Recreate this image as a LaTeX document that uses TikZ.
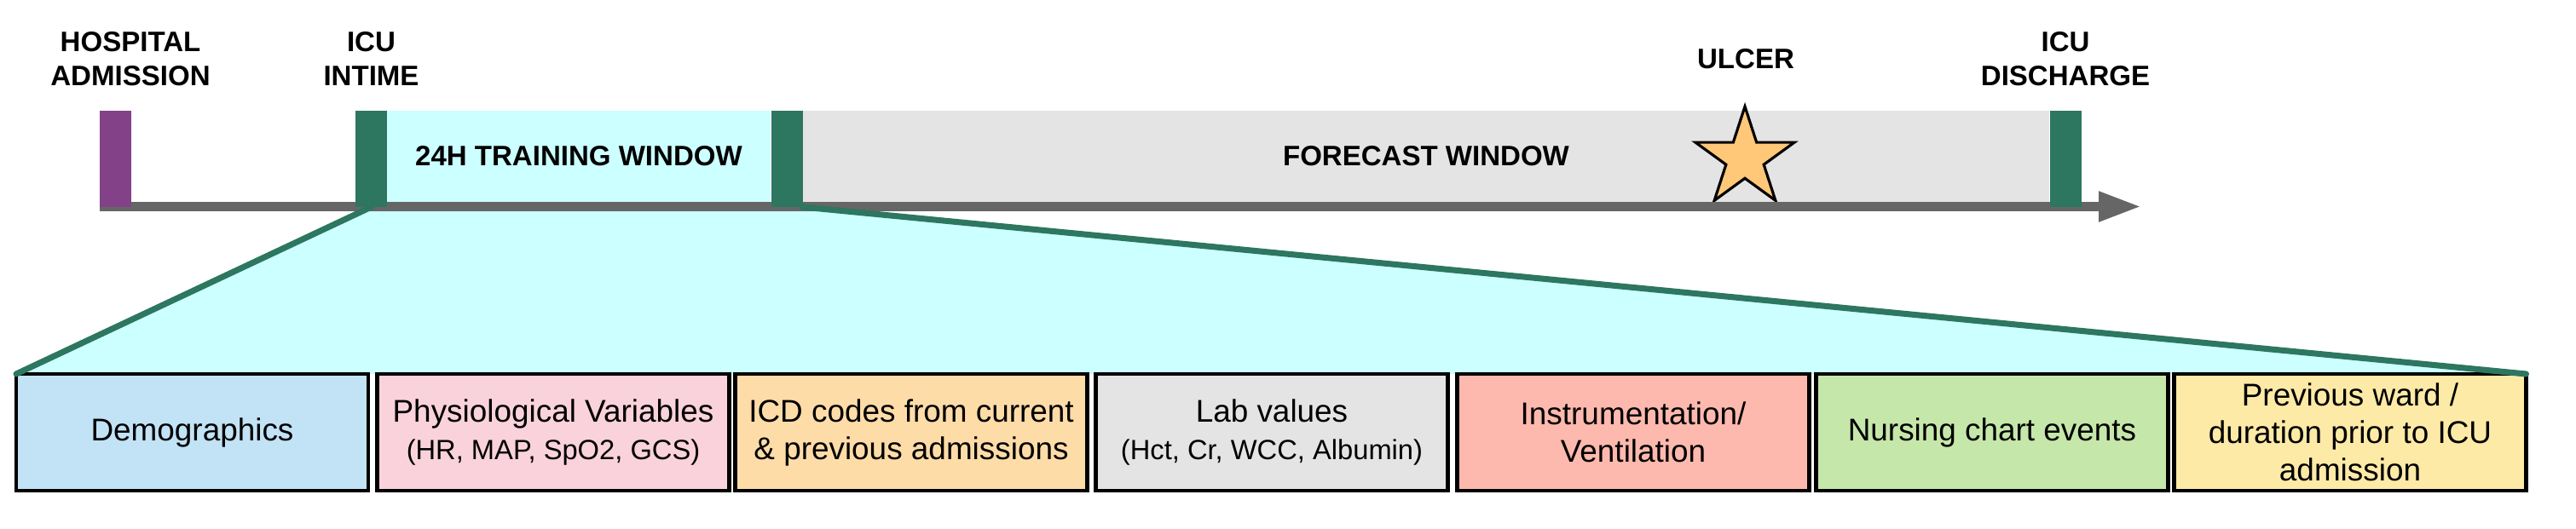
\documentclass[tikz,border=0pt]{standalone}
\usepackage{fontspec}
\setmainfont{Liberation Sans}
\usetikzlibrary{
    arrows.meta,
    shapes.geometric,
    positioning,
    backgrounds,
}

\definecolor{eventpurple}{RGB}{131,65,135}
\definecolor{icugreen}{RGB}{45,118,96}
\definecolor{axisgray}{RGB}{102,102,102}
\definecolor{traincyan}{RGB}{204,255,255}
\definecolor{forecastgray}{RGB}{228,228,228}
\definecolor{ulcerorange}{RGB}{255,200,120}
\definecolor{demoblue}{RGB}{194,226,245}
\definecolor{physiopink}{RGB}{249,210,220}
\definecolor{icdorange}{RGB}{254,220,168}
\definecolor{labgray}{RGB}{228,228,228}
\definecolor{instrsalmon}{RGB}{254,185,174}
\definecolor{nursegreen}{RGB}{198,231,170}
\definecolor{prevyellow}{RGB}{254,234,167}

\newcommand{\evfont}{\fontsize{9.4}{11.4}\selectfont\bfseries}
\newcommand{\featfont}{\fontsize{10.5}{12.5}\selectfont}
\newcommand{\featsubfont}{\fontsize{9.3}{11.9}\selectfont}

\tikzset{
    eventbar/.style={inner sep=0pt, outer sep=0pt, minimum width=0.37cm, minimum height=1.13cm, anchor=south},
    window/.style={inner sep=0pt, outer sep=0pt, minimum height=1.07cm, font=\evfont},
    toplabel/.style={align=center, inner sep=0pt, font=\evfont},
    featbox/.style={draw=black, line width=1.3pt, outer sep=0pt, minimum width=4.13cm, minimum height=1.37cm, align=center, inner sep=0pt, font=\featfont},
    funnel/.style={draw=icugreen, line width=2pt, line cap=round},
    timeaxis/.style={draw=axisgray, line width=3.13pt, -{Triangle[length=0.5cm, width=0.33cm]}},
    ulcer star/.style={star, star points=5, star point ratio=2.618, minimum size=1.22cm, inner sep=0pt, draw=black, line width=0.9pt, fill=ulcerorange},
}

\begin{document}
\begin{tikzpicture}
    \useasboundingbox (0,0) rectangle (30.22,6.2);

    % windows on the time line
    \node[window, fill=traincyan, minimum width=4.5cm] (train) at (6.79,4.365) {24H TRAINING WINDOW};
    \node[window, fill=forecastgray, minimum width=14.62cm] (forecast) at (16.73,4.365) {FORECAST WINDOW};
    \node[ulcer star] (ulcer) at (20.47,4.34) {};

    % time axis
    \coordinate (t0) at (1.17,3.775);
    \coordinate (tend) at (25.12,3.775);
    \draw[timeaxis] (t0) -- (tend);

    \node[eventbar, fill=eventpurple] (hosp) at (1.355,3.77) {};
    \node[eventbar, fill=icugreen] (intime) at (4.355,3.77) {};
    \node[eventbar, fill=icugreen] (trainend) at (9.23,3.77) {};
    \node[eventbar, fill=icugreen] (discharge) at (24.23,3.77) {};

    \node[toplabel] (hosplbl) at (1.53,5.51) {HOSPITAL\\ADMISSION};
    \node[toplabel] (intimelbl) at (4.355,5.51) {ICU\\INTIME};
    \node[toplabel] (ulcerlbl) at (20.48,5.51) {ULCER};
    \node[toplabel] (dischlbl) at (24.23,5.51) {ICU\\DISCHARGE};

    % feature groups
    \node[featbox, fill=demoblue] (demo) at (2.255,1.125) {Demographics};
    \node[featbox, fill=physiopink] (physio) at (6.49,1.125) {Physiological Variables\\{\featsubfont (HR, MAP, SpO2, GCS)}};
    \node[featbox, fill=icdorange] (icd) at (10.69,1.125) {ICD codes from current\\\& previous admissions};
    \node[featbox, fill=labgray] (lab) at (14.92,1.125) {Lab values\\{\featsubfont (Hct, Cr, WCC, Albumin)}};
    \node[featbox, fill=instrsalmon] (instr) at (19.16,1.125) {Instrumentation/\\Ventilation};
    \node[featbox, fill=nursegreen] (nurse) at (23.37,1.125) {Nursing chart events};
    \node[featbox, fill=prevyellow] (prev) at (27.57,1.125) {Previous ward /\\duration prior to ICU\\admission};

    \begin{scope}[on background layer]
        \fill[traincyan] (intime.south) -- (demo.north west) -- (prev.north east) -- (trainend.south east) -- cycle;
    \end{scope}
    \draw[funnel] (intime.south) -- (demo.north west);
    \draw[funnel] (trainend.south east) -- (prev.north east);
\end{tikzpicture}
\end{document}
